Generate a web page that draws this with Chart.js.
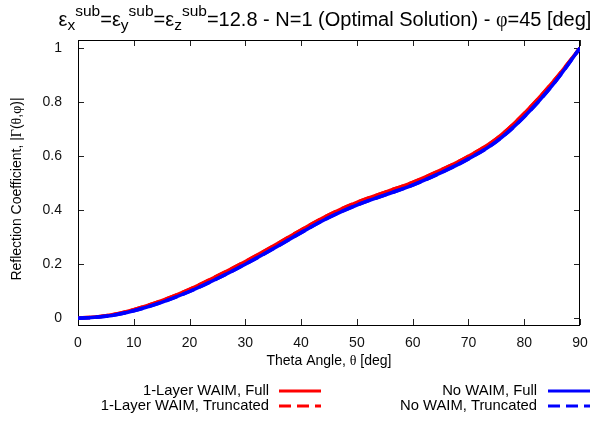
<!DOCTYPE html>
<html>
<head>
<meta charset="utf-8">
<script src="https://cdn.jsdelivr.net/npm/chart.js@4"></script>
<style>
  html, body { margin: 0; padding: 0; background: #fff; }
  #wrap { width: 599px; height: 423px; }
</style>
</head>
<body>
<div id="wrap"><canvas id="c" width="599" height="423"></canvas></div>
<script>
// ---- data ----
const theta = [0, 5, 10, 15, 20, 25, 30, 35, 40, 45, 50, 55, 60, 65, 70, 75, 80, 85, 90];
const oneLayerFull      = [0, 0.009, 0.032, 0.065, 0.107, 0.157, 0.210, 0.267, 0.327, 0.383, 0.429, 0.466, 0.503, 0.548, 0.600, 0.664, 0.758, 0.871, 1.0];
const oneLayerTruncated = [0, 0.009, 0.032, 0.065, 0.107, 0.157, 0.210, 0.267, 0.327, 0.383, 0.429, 0.466, 0.503, 0.548, 0.600, 0.664, 0.758, 0.871, 1.0];
const noWaimFull        = [0, 0.007, 0.028, 0.059, 0.099, 0.147, 0.200, 0.257, 0.317, 0.373, 0.419, 0.456, 0.493, 0.538, 0.590, 0.654, 0.746, 0.861, 1.0];
const noWaimTruncated   = [0, 0.007, 0.028, 0.059, 0.099, 0.147, 0.200, 0.257, 0.317, 0.373, 0.419, 0.456, 0.493, 0.538, 0.590, 0.654, 0.746, 0.861, 1.0];
const seriesLabels = ['1-Layer WAIM, Full', '1-Layer WAIM, Truncated', 'No WAIM, Full', 'No WAIM, Truncated'];
const xTicks = [0, 10, 20, 30, 40, 50, 60, 70, 80, 90];
const yTicks = [0, 0.2, 0.4, 0.6, 0.8, 1];
const xTitleParts = ['Theta Angle, ', 'θ', ' [deg]'];
const yTitleParts = ['Reflection Coefficient, |', 'Γ', '(', 'θ', ',', 'φ', ')|'];
const titleParts = [
  ['ε', 'n'], ['x', 'sub'], ['sub', 'sup'],
  ['=ε', 'n'], ['y', 'sub'], ['sub', 'sup'],
  ['=ε', 'n'], ['z', 'sub'], ['sub', 'sup'],
  ['=12.8 - N=1 (Optimal Solution) - ', 'n'], ['φ', 'n'], ['=45 [deg]', 'n']
];

const SANS = '"Liberation Sans", Arial, Helvetica, sans-serif';
const SERIF = '"Liberation Serif", "DejaVu Serif", serif';
const RED = '#ff0000', BLUE = '#0000ff';

function pts(ys) { return theta.map((t, i) => ({ x: t, y: ys[i] })); }

function isGreek(t) { return /^[θφΓ]$/.test(t); }

function drawRich(ctx, parts, cx, y, size) {
  let w = 0;
  parts.forEach(t => { ctx.font = size + 'px ' + (isGreek(t) ? SERIF : SANS); w += ctx.measureText(t).width; });
  let x = cx - w / 2;
  ctx.textAlign = 'left';
  parts.forEach(t => { ctx.font = size + 'px ' + (isGreek(t) ? SERIF : SANS); ctx.fillText(t, x, y); x += ctx.measureText(t).width; });
}

const frameTicks = {
  id: 'frameTicks',
  beforeDatasetsDraw(chart) {
    const { ctx, chartArea: a, scales } = chart;
    ctx.save();
    ctx.strokeStyle = '#222';
    ctx.lineWidth = 1;
    const L = 6;
    ctx.beginPath();
    xTicks.forEach(v => {
      const px = Math.round(scales.x.getPixelForValue(v)) + 0.5;
      ctx.moveTo(px, a.bottom); ctx.lineTo(px, a.bottom - L);
      ctx.moveTo(px, a.top); ctx.lineTo(px, a.top + L);
    });
    yTicks.forEach(v => {
      const py = Math.round(scales.y.getPixelForValue(v)) + 0.5;
      ctx.moveTo(a.left, py); ctx.lineTo(a.left + L, py);
      ctx.moveTo(a.right, py); ctx.lineTo(a.right - L, py);
    });
    ctx.stroke();
    ctx.strokeStyle = '#000';
    ctx.strokeRect(Math.round(a.left) + 0.5, Math.round(a.top) + 0.5,
                   Math.round(a.right - a.left) - 1, Math.round(a.bottom - a.top));
    ctx.restore();
  }
};

const texts = {
  id: 'texts',
  afterDraw(chart) {
    const { ctx, chartArea: a } = chart;
    ctx.save();
    ctx.fillStyle = '#000';
    // title with sub/superscripts
    const main = '20px ' + SANS, small = '15.5px ' + SANS, greek = '20px ' + SERIF;
    const fontOf = (t, k) => k === 'n' ? (t === 'φ' ? greek : main) : small;
    let w = 0;
    titleParts.forEach(([t, k]) => { ctx.font = fontOf(t, k); w += ctx.measureText(t).width; });
    let x = 325 - w / 2;
    const base = 26;
    ctx.textBaseline = 'alphabetic';
    ctx.textAlign = 'left';
    titleParts.forEach(([t, k]) => {
      ctx.font = fontOf(t, k);
      const y = k === 'n' ? base : (k === 'sup' ? base - 10 : base + 4);
      ctx.fillText(t, x, y);
      x += ctx.measureText(t).width;
    });
    // x title
    ctx.textBaseline = 'middle';
    drawRich(ctx, xTitleParts, (a.left + a.right) / 2, 361, 14);
    // y title
    ctx.save();
    ctx.translate(17, 189);
    ctx.rotate(-Math.PI / 2);
    drawRich(ctx, yTitleParts, 0, 0, 14);
    ctx.restore();
    // legend
    const ds = chart.data.datasets;
    const cols = [{ textRight: 269, x0: 279, x1: 321 }, { textRight: 537, x0: 548, x1: 590 }];
    const rows = [391, 406];
    ctx.font = '14.8px ' + SANS;
    ctx.textAlign = 'right';
    ds.forEach((d, i) => {
      const c = cols[Math.floor(i / 2)], y = rows[i % 2];
      ctx.fillStyle = '#000';
      ctx.fillText(d.label, c.textRight, y);
      ctx.strokeStyle = d.borderColor;
      ctx.lineWidth = 3;
      ctx.setLineDash(d.borderDash || []);
      ctx.beginPath(); ctx.moveTo(c.x0, y); ctx.lineTo(c.x1, y); ctx.stroke();
    });
    ctx.restore();
  }
};

const common = { pointRadius: 0, borderWidth: 3.5, fill: false, tension: 0.4 };

new Chart(document.getElementById('c'), {
  type: 'line',
  data: {
    datasets: [
      { ...common, label: seriesLabels[0], data: pts(oneLayerFull), borderColor: RED, order: 3 },
      { ...common, label: seriesLabels[1], data: pts(oneLayerTruncated), borderColor: RED, borderDash: [12, 6], order: 2 },
      { ...common, label: seriesLabels[2], data: pts(noWaimFull), borderColor: BLUE, order: 1 },
      { ...common, label: seriesLabels[3], data: pts(noWaimTruncated), borderColor: BLUE, borderDash: [12, 6], order: 0 }
    ]
  },
  options: {
    responsive: false,
    animation: false,
    devicePixelRatio: 1,
    layout: { padding: { top: 40, right: 19, left: 0, bottom: 0 } },
    plugins: { legend: { display: false }, title: { display: false }, tooltip: { enabled: false } },
    scales: {
      x: {
        type: 'linear', min: 0, max: 90,
        grid: { display: false }, border: { display: false },
        afterBuildTicks: s => { s.ticks = xTicks.map(v => ({ value: v })); },
        afterFit: s => { s.height = 98; },
        ticks: { font: { family: SANS, size: 14 }, color: '#111', padding: 2, maxRotation: 0,
                 callback: v => String(v) }
      },
      y: {
        type: 'linear', min: -0.025, max: 1.03,
        grid: { display: false }, border: { display: false },
        afterBuildTicks: s => { s.ticks = yTicks.map(v => ({ value: v })); },
        afterFit: s => { s.width = 78; },
        ticks: { font: { family: SANS, size: 14 }, color: '#111', padding: 8,
                 callback: v => String(Math.round(v * 10) / 10) }
      }
    }
  },
  plugins: [frameTicks, texts]
});
</script>
</body>
</html>
